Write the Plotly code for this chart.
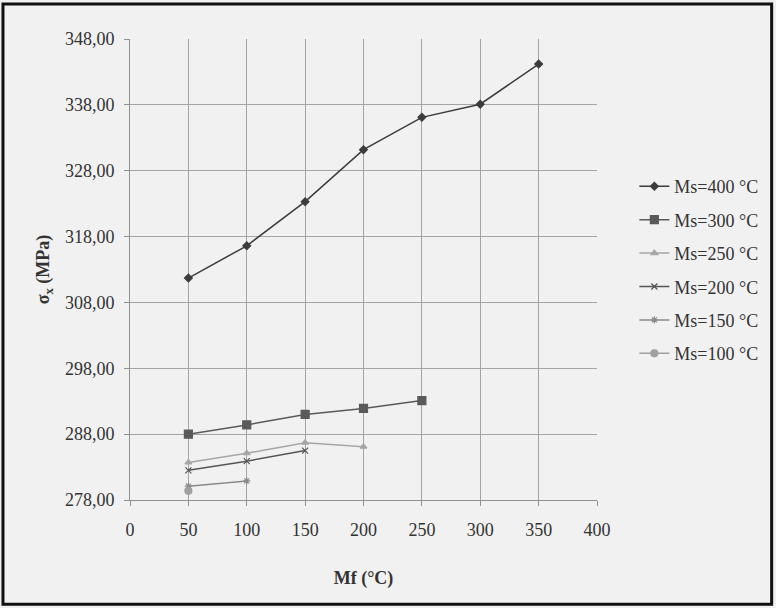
import plotly.graph_objects as go

mf_400 = [50, 100, 150, 200, 250, 300, 350]
s_400 = [311.7, 316.6, 323.3, 331.2, 336.1, 338.1, 344.2]
mf_300 = [50, 100, 150, 200, 250]
s_300 = [288.0, 289.4, 291.0, 291.9, 293.1]
mf_250 = [50, 100, 150, 200]
s_250 = [283.7, 285.1, 286.7, 286.1]
mf_200 = [50, 100, 150]
s_200 = [282.5, 283.9, 285.5]
mf_150 = [50, 100]
s_150 = [280.1, 280.9]
mf_100 = [50]
s_100 = [279.4]

names = ["Ms=400 °C", "Ms=300 °C", "Ms=250 °C", "Ms=200 °C", "Ms=150 °C", "Ms=100 °C"]
xs = [mf_400, mf_300, mf_250, mf_200, mf_150, mf_100]
ys = [s_400, s_300, s_250, s_200, s_150, s_100]
colors = ["#3c3c3c", "#5a5a5a", "#a6a6a6", "#555555", "#8a8a8a", "#a0a0a0"]
symbols = ["diamond", "square", "triangle-up", "x-thin-open", "asterisk-open", "circle"]
sizes = [6, 8, 6, 6, 6, 7]

y_ticks = [278, 288, 298, 308, 318, 328, 338, 348]
y_ticklabels = ["278,00", "288,00", "298,00", "308,00", "318,00", "328,00", "338,00", "348,00"]
x_ticks = [0, 50, 100, 150, 200, 250, 300, 350, 400]

fig = go.Figure()
for i in range(6):
    fig.add_trace(go.Scatter(
        x=xs[i], y=ys[i], name=names[i], mode="lines+markers",
        legendgroup=str(i),
        line=dict(color=colors[i], width=1.5),
        marker=dict(symbol=symbols[i], size=sizes[i], color=colors[i],
                    line=dict(color=colors[i], width=1.2)),
    ))

font_family = "Liberation Serif, Times New Roman, serif"
fig.update_layout(
    width=776, height=608,
    margin=dict(l=130, r=179, t=39, b=108),
    paper_bgcolor="#f1f1f1", plot_bgcolor="#f1f1f1",
    font=dict(family=font_family, size=18, color="#333333"),
    legend=dict(x=1.08, y=0.72, xanchor="left", yanchor="top",
                bgcolor="rgba(0,0,0,0)", font=dict(size=18, color="#333333"),
                traceorder="grouped", tracegroupgap=7, itemwidth=30),
    xaxis=dict(range=[0, 400], tickvals=x_ticks, showgrid=True,
               gridcolor="#a4a4a4", gridwidth=1,
               showline=True, linecolor="#909090", linewidth=1,
               ticks="outside", ticklen=5, tickcolor="#909090",
               ticklabelstandoff=8,
               zeroline=False,
               title=dict(text="<b>Mf (°C)</b>", standoff=32, font=dict(size=18))),
    yaxis=dict(range=[278, 348], tickvals=y_ticks, ticktext=y_ticklabels,
               showgrid=True, gridcolor="#a4a4a4", gridwidth=1,
               showline=True, linecolor="#909090", linewidth=1,
               ticks="outside", ticklen=5, tickcolor="#909090",
               ticklabelstandoff=6,
               zeroline=False,
               title=dict(text="<b>σ<sub>x</sub> (MPa)</b>", standoff=10, font=dict(size=18))),
    shapes=[dict(type="rect", xref="paper", yref="paper",
                 x0=-0.272, x1=1.374, y0=-0.226, y1=1.076,
                 line=dict(color="#111111", width=3), fillcolor="rgba(0,0,0,0)")],
)

fig.write_html("out.html", config={"displayModeBar": False},
               post_script="document.body.style.margin='0';")
